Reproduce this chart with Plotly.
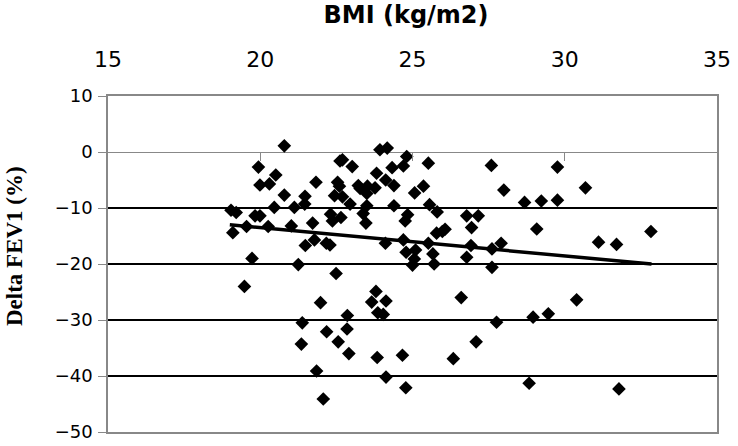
import plotly.graph_objects as go

# BMI (kg/m2) values
bmi = [20.79, 19.94, 20.51, 19.99, 20.30, 21.83, 20.79, 21.47, 21.46, 20.46,
       21.12, 19.04, 19.21, 19.83, 19.99, 21.72, 19.55, 20.26, 21.02, 19.10,
       21.78, 21.48, 19.73,
       23.93, 24.17, 24.81, 22.62, 22.70, 25.52, 27.59, 23.02, 24.33, 24.70,
       23.82, 24.12, 22.54, 22.60, 23.22, 23.28, 23.52, 23.77, 24.39, 25.36,
       28.00, 25.07, 23.50, 22.44, 22.70, 22.95, 23.50, 24.39, 25.56, 25.81,
       22.31, 23.38, 24.84, 26.78, 27.16, 22.65, 22.37, 24.76, 23.47, 26.94,
       26.07, 25.98, 25.79, 22.17, 22.29, 24.11, 24.70, 25.52, 26.92, 27.91,
       27.61, 24.79, 25.10, 25.67, 25.06, 26.78,
       25.00, 25.71, 27.61, 22.49, 23.80, 21.98, 23.66, 24.13, 26.60, 23.86,
       24.04, 22.86, 21.38, 27.76, 22.18, 22.85, 22.56, 27.09, 21.35, 22.91,
       23.84, 24.67, 26.34, 21.85, 24.13, 24.78, 22.07,
       21.25, 19.48,
       29.76, 30.68, 28.68, 29.23, 29.76, 29.08, 31.11, 31.70, 32.83,
       30.39, 28.96, 29.46, 28.83, 31.78]

# Delta FEV1 (%) values
delta_fev1 = [1.1, -2.7, -4.1, -5.9, -5.7, -5.4, -7.7, -7.9, -9.3, -9.9,
              -9.9, -10.4, -10.8, -11.4, -11.4, -12.7, -13.3, -13.3, -13.2, -14.4,
              -15.7, -16.7, -19.0,
              0.4, 0.7, -0.8, -1.6, -1.4, -2.0, -2.4, -2.6, -2.8, -2.5,
              -3.8, -5.0, -5.4, -6.1, -6.0, -6.5, -6.1, -6.4, -6.0, -6.1,
              -6.8, -7.3, -7.4, -7.8, -8.0, -9.3, -9.6, -9.6, -9.4, -10.7,
              -11.1, -11.0, -11.2, -11.4, -11.4, -11.7, -12.3, -12.3, -12.7, -13.5,
              -13.8, -14.2, -14.5, -16.3, -16.6, -16.3, -15.7, -16.3, -16.7, -16.3,
              -17.3, -17.9, -17.5, -18.2, -19.1, -18.8,
              -20.2, -20.0, -20.6, -21.7, -24.9, -26.9, -26.8, -26.6, -26.0, -28.7,
              -29.0, -29.2, -30.5, -30.4, -32.1, -31.6, -33.9, -33.9, -34.3, -36.0,
              -36.7, -36.3, -36.9, -39.1, -40.2, -42.1, -44.1,
              -20.1, -24.0,
              -2.7, -6.4, -9.0, -8.75, -8.6, -13.75, -16.1, -16.5, -14.2,
              -26.4, -29.5, -28.9, -41.3, -42.3]

# Trend line end points
trend_x = [19.0, 32.85]
trend_y = [-13.0, -20.0]

x_ticks = [15, 20, 25, 30, 35]
y_ticks = [-50, -40, -30, -20, -10, 0, 10]

W, H = 738, 446
L, R, T, B = 108, 21, 96, 14

fig = go.Figure()
fig.add_trace(go.Scatter(
    x=bmi, y=delta_fev1, mode="markers",
    marker=dict(symbol="diamond", size=10.5, color="black", line=dict(width=0)),
    showlegend=False, xaxis="x", yaxis="y"))
fig.add_trace(go.Scatter(
    x=trend_x, y=trend_y, mode="lines",
    line=dict(color="black", width=3.5),
    showlegend=False, xaxis="x", yaxis="y"))
# invisible trace on the axis that crosses at y=0, to hold its tick marks
fig.add_trace(go.Scatter(x=[15, 35], y=[0, 0], mode="markers",
                         marker=dict(opacity=0), showlegend=False,
                         hoverinfo="skip", xaxis="x2", yaxis="y"))

fig.update_layout(
    width=W, height=H,
    margin=dict(l=L, r=R, t=T, b=B),
    paper_bgcolor="white", plot_bgcolor="white",
    title=dict(text="<b>BMI (kg/m2)</b>", x=406 / W, xanchor="center",
               xref="container", yref="container",
               y=1 - 15 / H, yanchor="middle",
               font=dict(family="DejaVu Sans", size=24, color="black")),
    xaxis=dict(range=[15, 35], side="top", tickvals=x_ticks,
               showgrid=False, zeroline=False, automargin=False,
               showline=True, linecolor="#888888", linewidth=1.5, mirror=True,
               ticks="", ticklabelstandoff=18,
               tickfont=dict(family="DejaVu Sans", size=22, color="black")),
    xaxis2=dict(range=[15, 35], overlaying="x", anchor="free",
                position=(0 - (-50)) / 60, side="bottom", automargin=False,
                tickvals=x_ticks[1:-1], ticks="outside", ticklen=8,
                tickcolor="#888888", tickwidth=1,
                showticklabels=False, showgrid=False, zeroline=False,
                showline=False),
    yaxis=dict(range=[-50, 10], tickvals=y_ticks, automargin=False,
               showgrid=True, gridcolor="black", gridwidth=1.7,
               zeroline=True, zerolinecolor="#888888", zerolinewidth=1,
               showline=True, linecolor="#888888", linewidth=1.5, mirror=True,
               ticks="outside", ticklen=8, tickcolor="#888888",
               ticklabelstandoff=2,
               tickfont=dict(family="DejaVu Sans", size=18, color="black")),
    annotations=[dict(text="<b>Delta FEV1 (%)</b>", textangle=-90,
                      xref="paper", yref="paper",
                      x=-(L - 14) / (W - L - R), y=(H - B - 246) / (H - T - B),
                      xanchor="center", yanchor="middle", showarrow=False,
                      font=dict(family="Liberation Serif", size=23,
                                color="black"))],
)

fig.write_html("out.html",
               config={"displayModeBar": False},
               post_script="document.body.style.margin='0';"
                           "document.body.style.overflow='hidden';")
